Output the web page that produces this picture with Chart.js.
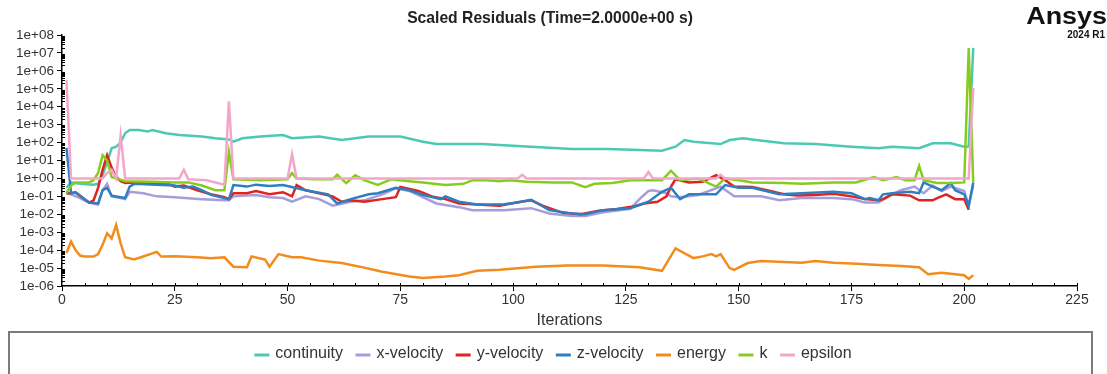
<!DOCTYPE html>
<html>
<head>
<meta charset="utf-8">
<title>Scaled Residuals</title>
<script src="https://cdn.jsdelivr.net/npm/chart.js@4.4.1/dist/chart.umd.min.js"></script>
<style>
    html, body { margin: 0; padding: 0; background: #fff; }
    #wrap { width: 1107px; height: 374px; }
</style>
</head>
<body>
<div id="wrap"><canvas id="residualChart" width="1107" height="374"></canvas></div>
<script>
// residual history (iteration, value)
const contIter = [1,2,4,7,8,9,10,11,12,13,14,15,17,19,20,23,26,31,34,37,38,40,44,49,51,57,62,68,75,80,83,93,99,106,113,121,128,133,136,138,140,146,148,151,153,160,167,175,181,184,190,193,197,200,201,202];
const contRes = [0.3,0.6,0.5,0.45,0.5,1.5,8,48,59,100,330,500,500,410,500,330,265,215,175,150,112,175,215,265,175,215,138,215,215,112,83,83,68,55,44,44,39,35,59,138,112,83,138,174,150,91,83,59,48,59,48,91,91,59,60,1.9e7];

const xvelIter = [1,2,4,6,8,9,10,11,13,14,15,18,21,25,31,36,37,38,43,46,49,51,54,57,60,64,67,71,74,77,83,88,91,98,104,108,113,116,120,126,128,130,131,134,135,137,141,146,149,155,159,164,171,175,178,181,184,186,189,191,193,195,197,200,201,202];
const xvelRes = [0.15,0.13,0.08,0.045,0.035,0.22,0.5,0.1,0.08,0.07,0.18,0.15,0.1,0.09,0.07,0.06,0.06,0.1,0.12,0.09,0.08,0.05,0.1,0.07,0.03,0.05,0.06,0.13,0.28,0.2,0.04,0.025,0.017,0.017,0.022,0.011,0.008,0.008,0.013,0.02,0.07,0.2,0.22,0.15,0.1,0.09,0.12,0.35,0.1,0.1,0.06,0.08,0.08,0.07,0.045,0.045,0.13,0.22,0.35,0.15,0.4,0.2,0.35,0.2,0.03,0.4];

const yvelIter = [1,2,3,5,6,7,8,9,10,11,12,13,14,16,21,23,25,27,30,33,36,37,38,41,43,46,49,51,52,54,57,60,62,64,67,71,74,75,79,82,85,88,92,97,101,104,107,111,115,119,123,127,129,132,134,135,136,139,142,145,147,149,153,157,160,163,167,171,175,178,181,182,184,188,190,193,194,196,198,200,201];
const yvelRes = [0.15,0.15,0.17,0.07,0.045,0.06,0.3,3,20,4,1.2,0.7,0.55,0.6,0.55,0.6,0.35,0.4,0.22,0.13,0.09,0.07,0.15,0.15,0.2,0.13,0.17,0.1,0.43,0.22,0.15,0.1,0.05,0.06,0.05,0.07,0.09,0.33,0.2,0.1,0.07,0.04,0.035,0.03,0.047,0.06,0.027,0.012,0.01,0.016,0.02,0.028,0.04,0.05,0.1,0.35,0.9,0.6,0.65,1.5,0.8,0.35,0.33,0.2,0.13,0.11,0.12,0.14,0.1,0.07,0.06,0.07,0.13,0.11,0.06,0.06,0.08,0.13,0.07,0.07,0.018];

const zvelIter = [1,2,3,5,6,8,9,10,11,13,14,15,16,21,25,27,29,31,33,36,37,38,41,43,46,49,54,59,61,64,68,70,74,77,80,84,85,88,92,98,101,104,108,113,116,120,126,130,133,135,137,139,145,147,150,153,159,164,171,175,178,179,181,182,184,188,190,191,193,195,197,198,200,201,202];
const zvelRes = [50,0.15,0.17,0.07,0.045,0.04,0.22,0.3,0.11,0.09,0.08,0.35,0.5,0.45,0.4,0.3,0.35,0.22,0.12,0.08,0.07,0.43,0.35,0.45,0.38,0.43,0.22,0.13,0.04,0.07,0.13,0.15,0.3,0.22,0.12,0.07,0.1,0.05,0.035,0.036,0.045,0.065,0.017,0.011,0.01,0.017,0.022,0.05,0.18,0.3,0.07,0.13,0.13,0.43,0.3,0.3,0.13,0.15,0.18,0.15,0.07,0.08,0.06,0.13,0.15,0.18,0.15,0.6,0.35,0.22,0.55,0.22,0.13,0.03,0.6];

const energyIter = [1,2,3,4,5,7,8,9,10,11,12,13,14,16,18,21,22,25,30,33,36,38,41,42,45,46,48,51,53,57,62,66,71,77,80,85,88,92,97,105,112,120,128,133,136,140,142,144,145,146,148,149,152,155,160,164,167,171,175,181,186,190,192,195,198,200,201,202];
const energyRes = [7e-5,3e-4,1e-4,5e-5,4.4e-5,4.4e-5,6e-5,2e-4,8.7e-4,4.5e-4,2.5e-3,2.4e-4,4e-5,3e-5,4.4e-5,8e-5,4.4e-5,4.5e-5,4e-5,3.5e-5,4e-5,1.2e-5,1.1e-5,4.4e-5,3e-5,1.2e-5,6e-5,4e-5,4e-5,2.6e-5,1.9e-5,1.2e-5,6.2e-6,3.4e-6,2.8e-6,3.4e-6,4e-6,7e-6,8e-6,1.2e-5,1.4e-5,1.4e-5,1.1e-5,7e-6,1.25e-4,3.6e-5,4.5e-5,6e-5,4.5e-5,6e-5,1e-5,8e-6,1.9e-5,2.5e-5,2.2e-5,2e-5,2.5e-5,2e-5,1.8e-5,1.5e-5,1.3e-5,1.1e-5,4.5e-6,5.5e-6,4.5e-6,4e-6,2.5e-6,4e-6];

const kIter = [1,2,3,6,7,8,9,10,11,12,14,20,25,28,31,34,36,37,38,44,50,51,52,56,60,61,63,65,67,70,73,77,80,85,89,91,94,97,99,103,109,113,116,118,122,126,130,133,135,137,141,145,147,150,153,160,164,171,176,180,182,185,187,189,190,191,194,197,200,201,202];
const kRes = [0.15,0.4,0.6,0.6,0.8,2,20,10,1.2,1,0.7,0.65,0.6,0.6,0.4,0.22,0.22,30,0.9,0.8,0.9,2,1,0.9,0.9,1.6,0.55,1.5,0.8,0.43,0.9,0.7,0.6,0.43,0.5,0.8,0.8,0.7,0.8,0.65,0.6,0.6,0.33,0.5,0.55,0.8,0.8,0.8,2.7,0.8,1,0.35,1,0.8,0.6,0.55,0.5,0.6,0.6,1.2,0.8,1.2,0.8,0.8,5,0.8,0.55,0.55,0.6,1.9e7,0.6];

const epsIter = [1,2,9,10,11,12,13,14,26,27,28,32,36,37,38,50,51,52,101,102,103,129,130,131,145,146,147,201,202];
const epsRes = [3e5,1,1,2,3,1,250,1,1,3,0.9,0.8,0.45,2e4,1,1,23,1,1,1.6,1,1,2.3,1,1,1.6,1,1,1.1e5];

const seriesNames = ['continuity', 'x-velocity', 'y-velocity', 'z-velocity', 'energy', 'k', 'epsilon'];
const seriesColors = ['#4cc9b2', '#a79ddc', '#e0231f', '#2f7ec0', '#f28c1c', '#86cc1e', '#f4a5ca'];

const FONT = "'Liberation Sans', Arial, sans-serif";
const TITLE = 'Scaled Residuals (Time=2.0000e+00 s)';

function toPoints(iters, vals) {
    return iters.map((it, i) => ({ x: it, y: vals[i] }));
}

const allSeries = [
    toPoints(contIter, contRes),
    toPoints(xvelIter, xvelRes),
    toPoints(yvelIter, yvelRes),
    toPoints(zvelIter, zvelRes),
    toPoints(energyIter, energyRes),
    toPoints(kIter, kRes),
    toPoints(epsIter, epsRes),
];

function expLabel(v) {
    const k = Math.round(Math.log10(v));
    const sign = k < 0 ? '-' : '+';
    return '1e' + sign + String(Math.abs(k)).padStart(2, '0');
}

// small inner ticks like the Fluent plot
const minorTicks = {
    id: 'minorTicks',
    afterDraw(chart) {
        const { ctx, chartArea } = chart;
        const xs = chart.scales.x, ys = chart.scales.y;
        ctx.save();
        ctx.strokeStyle = '#000';
        ctx.lineWidth = 1;
        ctx.beginPath();
        for (let v = 5; v <= 225; v += 5) {
            const px = Math.round(xs.getPixelForValue(v)) + 0.5;
            ctx.moveTo(px, chartArea.bottom);
            ctx.lineTo(px, chartArea.bottom - 3);
        }
        for (let k = -6; k < 8; k++) {
            for (let m = 2; m < 10; m++) {
                const py = Math.round(ys.getPixelForValue(m * Math.pow(10, k))) + 0.5;
                ctx.moveTo(chartArea.left, py);
                ctx.lineTo(chartArea.left + 3, py);
            }
        }
        ctx.stroke();
        ctx.restore();
    }
};

// title, boxed legend and product mark
const decorations = {
    id: 'decorations',
    afterDraw(chart) {
        const ctx = chart.ctx;
        ctx.save();

        ctx.fillStyle = '#222';
        ctx.textAlign = 'center';
        ctx.textBaseline = 'alphabetic';
        ctx.font = 'bold 15.7px ' + FONT;
        ctx.fillText(TITLE, 550, 22.5);

        ctx.fillStyle = '#111';
        ctx.textAlign = 'right';
        ctx.save();
        ctx.translate(1107, 23.5);
        ctx.scale(1.17, 1);
        ctx.font = 'bold 23px ' + FONT;
        ctx.fillText('Ansys', 0, 0);
        ctx.restore();
        ctx.font = 'bold 10px ' + FONT;
        ctx.fillText('2024 R1', 1105, 38);

        ctx.strokeStyle = '#7b7b7b';
        ctx.lineWidth = 2;
        ctx.strokeRect(9, 332, 1083, 60);

        ctx.font = '16px ' + FONT;
        const items = chart.data.datasets.map(ds => ({
            label: ds.label, color: ds.borderColor, w: ctx.measureText(ds.label).width
        }));
        const sw = 15, gap = 6, sep = 12.5;
        const total = items.reduce((s, it) => s + sw + gap + it.w, 0) + sep * (items.length - 1);
        let x = 553 - total / 2;
        const y = 354;
        ctx.textBaseline = 'middle';
        ctx.textAlign = 'left';
        items.forEach(it => {
            ctx.strokeStyle = it.color;
            ctx.lineWidth = 3;
            ctx.beginPath();
            ctx.moveTo(x, y + 1);
            ctx.lineTo(x + sw, y + 1);
            ctx.stroke();
            ctx.fillStyle = '#333';
            ctx.fillText(it.label, x + sw + gap, y);
            x += sw + gap + it.w + sep;
        });
        ctx.restore();
    }
};

const ctx = document.getElementById('residualChart').getContext('2d');
const residualChart = new Chart(ctx, {
    type: 'line',
    data: {
        datasets: seriesNames.map((name, i) => ({
            label: name,
            data: allSeries[i],
            borderColor: seriesColors[i],
            backgroundColor: seriesColors[i],
            borderWidth: 2.5,
            pointRadius: 0,
            tension: 0,
            fill: false,
            order: seriesNames.length - 1 - i,
        })),
    },
    options: {
        responsive: false,
        animation: false,
        devicePixelRatio: 1,
        layout: { padding: { left: 6, right: 30, top: 35, bottom: 42 } },
        plugins: {
            legend: { display: false },
            tooltip: { enabled: false },
            title: { display: false },
        },
        scales: {
            x: {
                type: 'linear',
                min: 0,
                max: 225,
                ticks: { stepSize: 25, color: '#333', padding: 1, font: { family: FONT, size: 14 } },
                grid: { drawOnChartArea: false, drawTicks: true, tickLength: 5, color: '#000' },
                border: { color: '#000', width: 1.5 },
                title: {
                    display: true,
                    text: 'Iterations',
                    color: '#333',
                    font: { family: FONT, size: 16 },
                    padding: { top: 2, bottom: 1.5 },
                },
                afterFit: (scale) => { scale.height = 46; },
            },
            y: {
                type: 'logarithmic',
                min: 1e-6,
                max: 1e8,
                afterBuildTicks: (scale) => {
                    const t = [];
                    for (let k = -6; k <= 8; k++) t.push({ value: Math.pow(10, k) });
                    scale.ticks = t;
                },
                ticks: {
                    autoSkip: false,
                    color: '#333',
                    padding: 3,
                    font: { family: FONT, size: 13.5 },
                    callback: (v) => expLabel(v),
                },
                grid: { drawOnChartArea: false, drawTicks: true, tickLength: 5, color: '#000' },
                border: { color: '#000', width: 1.5 },
                afterFit: (scale) => { scale.width = 56; },
            },
        },
    },
    plugins: [minorTicks, decorations],
});
</script>
</body>
</html>
